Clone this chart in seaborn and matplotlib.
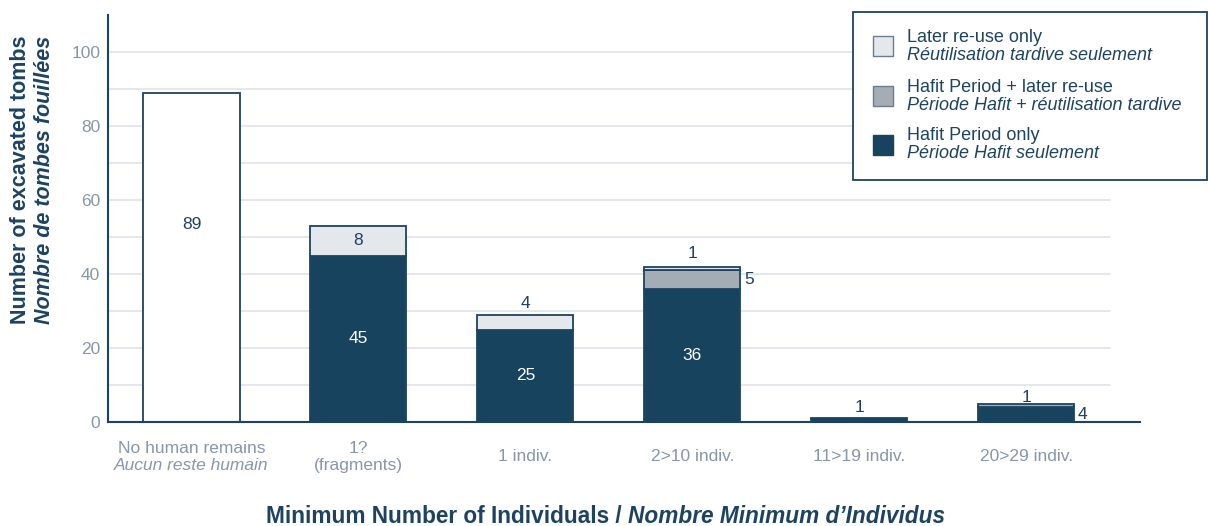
import numpy as np
import matplotlib
matplotlib.use("Agg")
import matplotlib.pyplot as plt
import matplotlib.transforms as mtransforms
from matplotlib.patches import Rectangle
import seaborn as sns

categories = ["No human remains", "1?\n(fragments)", "1 indiv.", "2>10 indiv.",
              "11>19 indiv.", "20>29 indiv."]
no_remains = [89, 0, 0, 0, 0, 0]
hafit_only = [0, 45, 25, 36, 1, 4]
hafit_reuse = [0, 0, 0, 5, 0, 1]
later_only = [0, 8, 4, 1, 0, 0]

navy = "#17435e"
edge = "#1d4360"
mid = "#a4acb6"
light = "#e4e8ec"
tickgray = "#8896a6"

sns.set_theme(style="white")
plt.rcParams["font.family"] = ["Liberation Sans", "DejaVu Sans"]

fig = plt.figure(figsize=(12.08, 5.26), dpi=100)
ax = fig.add_axes([108 / 1208, 1 - 422 / 526, (1140 - 108) / 1208, (422 - 15) / 526])

for y in range(10, 101, 10):
    ax.axhline(y, xmax=0.971, color="#dfe4ea", lw=1.2, zorder=0)

w = 0.575
kw = dict(width=w, edgecolor=edge, linewidth=1.3, zorder=2, saturation=1)
sns.barplot(x=categories, y=no_remains, color="white", ax=ax, **kw)
sns.barplot(x=categories, y=hafit_only, color=navy, ax=ax, **kw)
b2 = np.array(hafit_only)
sns.barplot(x=categories, y=hafit_reuse, bottom=b2, color=mid, ax=ax, **kw)
b3 = b2 + np.array(hafit_reuse)
sns.barplot(x=categories, y=later_only, bottom=b3, color=light, ax=ax, **kw)
total = b3 + np.array(later_only)

for p in ax.patches:
    if p.get_height() == 0:
        p.set_visible(False)

ax.set_xlim(-0.5, 5.68)
ax.set_ylim(0, 110)
ax.set_yticks(range(0, 101, 20))
ax.tick_params(axis="both", length=0, colors=tickgray, labelsize=12.5)
ax.tick_params(axis="x", pad=25)
xt = [""] + categories[1:]
ax.set_xticks(range(len(categories)))
ax.set_xticklabels(xt)
for t in ax.get_xticklabels():
    t.set_va("center")
ax.tick_params(axis="y", pad=5.5)
for s in ["top", "right"]:
    ax.spines[s].set_visible(False)
for s in ["left", "bottom"]:
    ax.spines[s].set_color(edge)
    ax.spines[s].set_linewidth(1.5)
ax.set_xlabel("")
ax.set_ylabel("")

tr = mtransforms.blended_transform_factory(ax.transData, ax.transAxes)
ax.text(0, -0.064, categories[0], transform=tr, ha="center", va="center",
        fontsize=12.5, color=tickgray)
ax.text(0, -0.107, "Aucun reste humain", transform=tr, ha="center", va="center",
        fontsize=12.5, color=tickgray, style="italic")

fs = 12.5
# values inside / around bars
ax.text(0, 53.5, str(no_remains[0]), ha="center", va="center", fontsize=fs, color=edge)
for i in [1, 2, 3]:
    ax.text(i, hafit_only[i] / 2, str(hafit_only[i]), ha="center", va="center",
            fontsize=fs, color="white")
ax.text(1, b3[1] + later_only[1] / 2, str(later_only[1]), ha="center", va="center",
        fontsize=fs, color=edge)
ax.text(2, total[2] + 1, str(later_only[2]), ha="center", va="bottom", fontsize=fs, color=edge)
ax.text(3, total[3] + 1.5, str(later_only[3]), ha="center", va="bottom", fontsize=fs, color=edge)
ax.text(3 + w / 2 + 0.02, b2[3] + hafit_reuse[3] / 2, str(hafit_reuse[3]), ha="left",
        va="center", fontsize=fs, color=edge)
ax.text(4, total[4] + 0.8, str(hafit_only[4]), ha="center", va="bottom", fontsize=fs, color=edge)
ax.text(5, total[5] - 0.5, str(hafit_reuse[5]), ha="center", va="bottom", fontsize=fs, color=edge)
ax.text(5 + w / 2 + 0.02, hafit_only[5] / 2, str(hafit_only[5]), ha="left",
        va="center", fontsize=fs, color=edge)

# axis titles
fig.text(21 / 1208, 1 - 180 / 526, "Number of excavated tombs", rotation=90, ha="center",
         va="center", fontsize=15.5, fontweight="bold", color=edge)
fig.text(45 / 1208, 1 - 180 / 526, "Nombre de tombes fouillées", rotation=90, ha="center",
         va="center", fontsize=15.5, fontweight="bold", style="italic", color=edge)
fig.text(0.52, 0.006, "Minimum Number of Individuals / ", ha="right", va="baseline",
         fontsize=16.3, fontweight="bold", color=edge)
fig.text(0.52, 0.006, "Nombre Minimum d\u2019Individus", ha="left", va="baseline",
         fontsize=16.3, fontweight="bold", style="italic", color=edge)

# legend box
fig.patches.append(Rectangle((853 / 1208, 1 - 180 / 526), 354 / 1208, 168 / 526,
                             transform=fig.transFigure, facecolor="white", edgecolor=edge,
                             lw=1.3, zorder=5))
leg = [("Later re-use only", "Réutilisation tardive seulement", light),
       ("Hafit Period + later re-use", "Période Hafit + réutilisation tardive", mid),
       ("Hafit Period only", "Période Hafit seulement", navy)]
for k, (l1, l2, c) in enumerate(leg):
    yc = [46, 96, 145][k]
    fig.patches.append(Rectangle((873 / 1208, 1 - (yc + 10) / 526), 20 / 1208, 20 / 526,
                                 transform=fig.transFigure, facecolor=c,
                                 edgecolor="#6d7c8c" if k < 2 else navy, lw=1, zorder=6))
    fig.text(907 / 1208, 1 - (yc - 9) / 526, l1, ha="left", va="center", fontsize=13,
             color=edge, zorder=7)
    fig.text(907 / 1208, 1 - (yc + 9) / 526, l2, ha="left", va="center", fontsize=13,
             color=edge, style="italic", zorder=7)

fig.savefig("out.png", dpi=100)
